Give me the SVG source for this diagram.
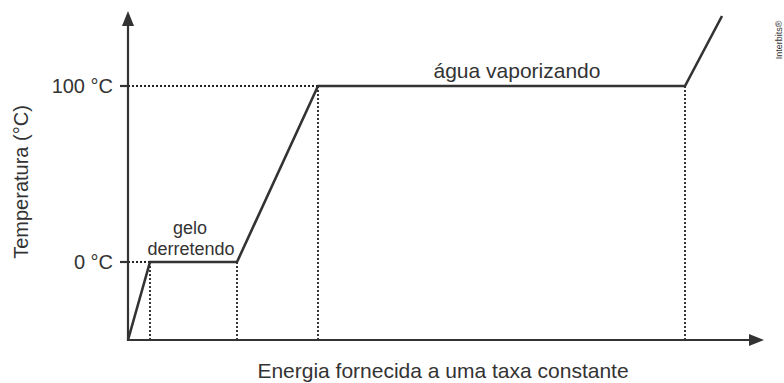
<svg xmlns="http://www.w3.org/2000/svg" width="784" height="383" viewBox="0 0 784 383">
<style>
text{font-family:"Liberation Sans",Arial,sans-serif;fill:#333}
.ax{stroke:#333;stroke-width:2.2;fill:none}
.cv{stroke:#333;stroke-width:2.6;fill:none;stroke-linejoin:miter}
.dot{stroke:#222;stroke-width:1.8;stroke-dasharray:2 2;fill:none}
.lbl{font-size:20px}
.big{font-size:21px}
.sm{font-size:18px}
</style>
<rect width="784" height="383" fill="#fff"/>
<g id="connectors">
<line class="dot" x1="128" y1="262" x2="150" y2="262"/>
<line class="dot" x1="128" y1="86" x2="318" y2="86"/>
<line class="dot" x1="150" y1="262" x2="150" y2="340"/>
<line class="dot" x1="237" y1="262" x2="237" y2="340"/>
<line class="dot" x1="318" y1="86" x2="318" y2="340"/>
<line class="dot" x1="685" y1="86" x2="685" y2="340"/>
<polyline class="cv" points="128,340 150,262 237,262 318,86 685,86 722,16"/>
</g>
<g id="y-axis">
<line class="ax" x1="128" y1="341" x2="128" y2="22"/>
<polygon points="128,11 122,26 134,26" fill="#333"/>
<line class="ax" x1="120" y1="86" x2="128" y2="86"/>
<line class="ax" x1="120" y1="262" x2="128" y2="262"/>
<text class="lbl" x="113" y="93" text-anchor="end">100 °C</text>
<text class="lbl" x="113" y="269" text-anchor="end">0 °C</text>
<text class="lbl" transform="translate(28,182) rotate(-90)" text-anchor="middle">Temperatura (°C)</text>
</g>
<g id="x-axis">
<line class="ax" x1="127" y1="340" x2="752" y2="340"/>
<polygon points="764,340 749,334 749,346" fill="#333"/>
<text class="big" x="443" y="378" text-anchor="middle">Energia fornecida a uma taxa constante</text>
</g>
<g id="labels">
<text class="sm" x="190" y="234" text-anchor="middle">gelo</text>
<text class="sm" x="191" y="255" text-anchor="middle">derretendo</text>
<text class="big" x="517" y="78" text-anchor="middle">água vaporizando</text>
<text transform="translate(782,40) rotate(-90)" text-anchor="middle" font-size="9">Interbits®</text>
</g>
</svg>
